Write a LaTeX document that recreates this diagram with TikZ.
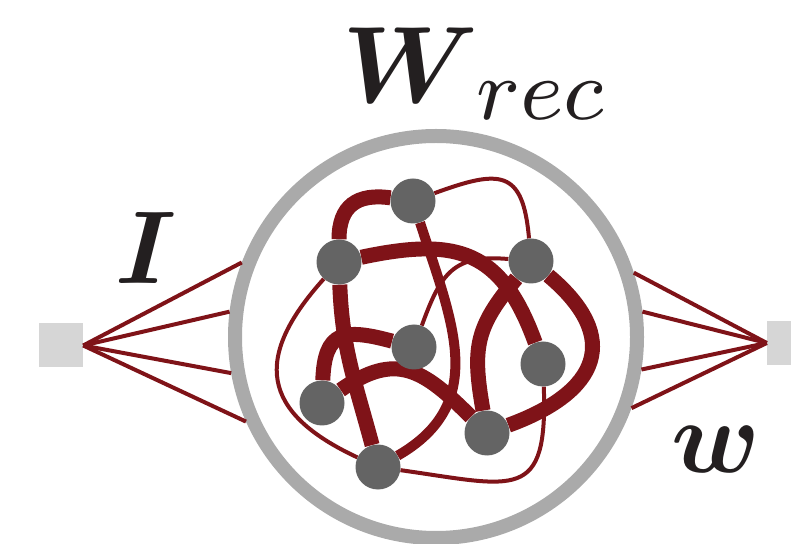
\documentclass[tikz,border=0pt]{standalone}
\usepackage{bm}
\usetikzlibrary{backgrounds}
\DeclareMathSizes{10}{10}{7.7}{5}
\definecolor{rnred}{HTML}{7F1318}
\definecolor{rnring}{HTML}{AAAAAA}
\definecolor{rncell}{HTML}{646464}
\definecolor{rnport}{HTML}{D6D6D6}
\definecolor{rnink}{HTML}{231F20}
\tikzset{
  pool/.style={circle, draw=rnring, line width=14pt, minimum size=402pt, inner sep=0pt},
  neu/.style={circle, fill=rncell, minimum size=45pt, inner sep=0pt},
  port/.style={rectangle, fill=rnport, minimum size=44pt, inner sep=0pt},
  weak/.style={draw=rnred, line width=4pt},
  fair/.style={draw=rnred, line width=10pt},
  strong/.style={draw=rnred, line width=15pt},
  feed/.style={draw=rnred, line width=4pt},
  lbl/.style={text=rnink, inner sep=0pt, font=\fontsize{10}{12}\selectfont, scale=10.35},
}

\begin{document}
\begin{tikzpicture}[x=1pt,y=1pt]
  \useasboundingbox (0,0) rectangle (791,543);
  % reservoir ring and the eight units inside
  \node[pool] (res) at (436,206) {};
  \node[neu] (a) at (413,342) {};
  \node[neu] (b) at (339,281) {};
  \node[neu] (c) at (531,282) {};
  \node[neu] (d) at (414,196) {};
  \node[neu] (e) at (543,179) {};
  \node[neu] (f) at (322,140) {};
  \node[neu] (g) at (487,110) {};
  \node[neu] (h) at (378,76) {};
  % recurrent weights
  \begin{scope}[on background layer]
    \draw[strong] (a) to[out=172,in=90,looseness=1.3] (b);
    \draw[strong] (b) to[out=12,in=110,looseness=1.3] (e);
    \draw[strong] (b) to[out=-88,in=105] (h);
    \draw[strong] (f) to[out=88,in=165,looseness=1.6] (d);
    \draw[strong] (f) to[out=35,in=135,looseness=1.3] (g);
    \draw[strong] (g) to[out=100,in=230,looseness=1.2] (c);
    \draw[strong] (c) to[out=-40,in=20,looseness=1.6] (g);
    \draw[fair] (a) to[out=-72,in=30,looseness=1.15] (h);
    \draw[weak] (a) to[out=20,in=95,looseness=1.7] (c);
    \draw[weak] (b) to[out=228,in=155,looseness=1.5] (h);
    \draw[weak] (h) to[out=-8,in=-88,looseness=1.8] (e);
    \draw[weak] (d) to[out=70,in=175,looseness=1.3] (c);
  \end{scope}
  % input and readout
  \node[port] (pin) at (61,197.5) {};
  \node[port] (pout) at (789,200) {};
  \foreach \a in {159,173,190,204} \draw[feed] (pin.east) -- (res.\a);
  \foreach \a in {18,7,351,340} \draw[feed] (pout.west) -- (res.\a);
  \node[lbl, scale=1.05, anchor=base west] (wrec) at (340,440) {$\bm{W}_{\,rec}$};
  \node[lbl, anchor=base west] (inlbl) at (113,259) {$\bm{I}$};
  \node[lbl, anchor=base west] (outlbl) at (669,70) {$\bm{w}$};
\end{tikzpicture}
\end{document}
